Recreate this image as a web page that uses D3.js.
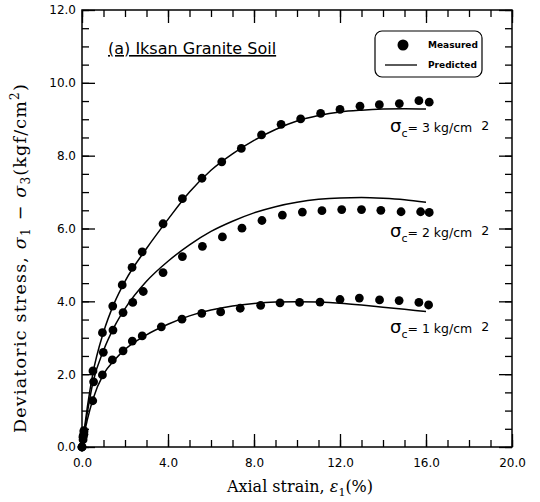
<!DOCTYPE html>
<html><head><meta charset="utf-8">
<script src="https://cdn.jsdelivr.net/npm/d3@7/dist/d3.min.js"></script>
<style>body{margin:0;background:#fff}svg{display:block}</style>
</head><body>
<svg id="c" width="540" height="502"></svg>
<script>
// ---- data ----
const xTicksMajor = [0, 4, 8, 12, 16, 20];
const yTicksMajor = [0, 2, 4, 6, 8, 10, 12];
const seriesNames = ["σc=3", "σc=2", "σc=1"];
const meas3x = [0,0.05,0.09,0.51,0.95,1.43,1.87,2.33,2.8,3.77,4.67,5.58,6.5,7.41,8.35,9.26,10.17,11.1,12.0,12.93,13.83,14.76,15.67,16.15];
const meas3y = [0,0.27,0.45,2.09,3.14,3.87,4.45,4.93,5.36,6.13,6.82,7.38,7.83,8.2,8.57,8.86,9.01,9.16,9.27,9.36,9.4,9.43,9.51,9.47];
const meas2x = [0,0.05,0.09,0.54,0.99,1.44,1.91,2.36,2.85,3.77,4.67,5.6,6.53,7.44,8.37,9.32,10.25,11.16,12.08,13.0,13.9,14.84,15.75,16.15];
const meas2y = [0,0.3,0.41,1.79,2.6,3.21,3.69,3.97,4.27,4.79,5.23,5.51,5.77,6.01,6.22,6.37,6.45,6.49,6.52,6.52,6.5,6.46,6.46,6.44];
const meas1x = [0,0.05,0.09,0.5,0.95,1.41,1.91,2.34,2.8,3.69,4.65,5.57,6.45,7.36,8.31,9.21,10.12,11.07,12.0,12.9,13.84,14.75,15.67,16.12];
const meas1y = [0,0.2,0.35,1.27,1.98,2.39,2.64,2.91,3.05,3.3,3.51,3.67,3.71,3.81,3.89,3.96,3.97,3.98,4.05,4.09,4.04,4.02,3.97,3.9];
const predX = [0,0.1,0.25,0.5,1,1.5,2,3,4,5,6,7,8,9,10,11,12,13,14,15,16];
const pred3 = [0,0.45,1.1,2.0,3.15,3.95,4.55,5.45,6.25,7.0,7.6,8.05,8.42,8.72,8.95,9.1,9.2,9.25,9.28,9.29,9.28];
const pred2 = [0,0.4,0.95,1.75,2.65,3.3,3.8,4.55,5.1,5.55,5.92,6.2,6.43,6.6,6.72,6.8,6.84,6.85,6.83,6.79,6.72];
const pred1 = [0,0.35,0.75,1.3,2.0,2.38,2.68,3.08,3.37,3.6,3.76,3.87,3.94,3.98,3.99,3.98,3.95,3.9,3.84,3.78,3.72];
const labelTexts = ["3", "2", "1"];
const labelAtY = [8.72, 5.86, 3.2];

// ---- layout ----
const svg = d3.select("#c");
const L = 82, R = 512, T = 10, B = 447;
const x = d3.scaleLinear().domain([0, 20]).range([L, R]);
const y = d3.scaleLinear().domain([0, 12]).range([B, T]);
const fmt = d3.format(".1f");
const tickFont = "DejaVu Sans, sans-serif";

function styleAxis(g){
  g.select(".domain").remove();
  g.selectAll("line").attr("stroke","#000").attr("stroke-width",1.3);
  g.selectAll("text").attr("font-family",tickFont).attr("font-size",12).attr("fill","#000");
}
const minorX = d3.range(0, 21, 1);
const minorY = d3.range(0, 12.01, 0.5);

// bottom
svg.append("g").attr("transform",`translate(0,${B})`)
  .call(d3.axisBottom(x).tickValues(minorX).tickSize(-7).tickFormat(""))
  .call(styleAxis);
svg.append("g").attr("transform",`translate(0,${B})`)
  .call(d3.axisBottom(x).tickValues(xTicksMajor).tickSize(-13).tickPadding(11).tickFormat(fmt))
  .call(styleAxis);
// top
svg.append("g").attr("transform",`translate(0,${T})`)
  .call(d3.axisTop(x).tickValues(minorX).tickSize(-7).tickFormat(""))
  .call(styleAxis);
svg.append("g").attr("transform",`translate(0,${T})`)
  .call(d3.axisTop(x).tickValues(xTicksMajor).tickSize(-13).tickFormat(""))
  .call(styleAxis);
// left
svg.append("g").attr("transform",`translate(${L},0)`)
  .call(d3.axisLeft(y).tickValues(minorY).tickSize(-7).tickFormat(""))
  .call(styleAxis);
svg.append("g").attr("transform",`translate(${L},0)`)
  .call(d3.axisLeft(y).tickValues(yTicksMajor).tickSize(-13).tickPadding(6).tickFormat(fmt))
  .call(styleAxis);
// right
svg.append("g").attr("transform",`translate(${R},0)`)
  .call(d3.axisRight(y).tickValues(minorY).tickSize(-7).tickFormat(""))
  .call(styleAxis);
svg.append("g").attr("transform",`translate(${R},0)`)
  .call(d3.axisRight(y).tickValues(yTicksMajor).tickSize(-13).tickFormat(""))
  .call(styleAxis);

// frame
svg.append("rect").attr("x",L).attr("y",T).attr("width",R-L).attr("height",B-T)
  .attr("fill","none").attr("stroke","#000").attr("stroke-width",1.5);

// predicted lines
const line = d3.line().curve(d3.curveMonotoneX).x(d=>x(d[0])).y(d=>y(d[1]));
[pred3, pred2, pred1].forEach(p=>{
  svg.append("path").datum(predX.map((v,i)=>[v,p[i]]))
    .attr("d",line).attr("fill","none").attr("stroke","#000").attr("stroke-width",1.5);
});
// measured points
[[meas3x,meas3y],[meas2x,meas2y],[meas1x,meas1y]].forEach(([mx,my])=>{
  svg.append("g").selectAll("circle").data(mx.map((v,i)=>[v,my[i]])).join("circle")
    .attr("cx",d=>x(d[0])).attr("cy",d=>y(d[1])).attr("r",4.4).attr("fill","#000");
});

// series labels
labelTexts.forEach((t,i)=>{
  const tx = svg.append("text").attr("x",390).attr("y",y(labelAtY[i])+3)
    .attr("font-family",tickFont).attr("fill","#000");
  tx.append("tspan").attr("font-size",18).text("σ");
  tx.append("tspan").attr("font-size",11).attr("dy",5).text("c");
  tx.append("tspan").attr("font-size",12.5).attr("dy",-5).text("= " + t + " kg/cm");
  tx.append("tspan").attr("font-size",12.5).attr("dx",9).attr("dy",-2).text("2");
});

// title
svg.append("text").attr("x",108).attr("y",54).attr("font-family",tickFont)
  .attr("font-size",16).attr("text-decoration","underline").attr("fill","#000")
  .text("(a) Iksan Granite Soil");

// legend
svg.append("rect").attr("x",375).attr("y",31).attr("width",107).attr("height",46)
  .attr("rx",7).attr("fill","#fff").attr("stroke","#000").attr("stroke-width",1.2);
svg.append("circle").attr("cx",403).attr("cy",45).attr("r",5.5).attr("fill","#000");
svg.append("line").attr("x1",385).attr("x2",417).attr("y1",65).attr("y2",65)
  .attr("stroke","#000").attr("stroke-width",1.3);
svg.append("text").attr("x",428).attr("y",48).attr("font-family",tickFont)
  .attr("font-weight","bold").attr("font-size",9).text("Measured");
svg.append("text").attr("x",428).attr("y",68).attr("font-family",tickFont)
  .attr("font-weight","bold").attr("font-size",9).text("Predicted");

// axis titles
const serif = "DejaVu Serif, serif";
const xl = svg.append("text").attr("x",300).attr("y",492).attr("text-anchor","middle")
  .attr("font-family",serif).attr("font-size",16).attr("fill","#000");
xl.append("tspan").text("Axial strain, ");
xl.append("tspan").attr("font-style","italic").text("ε");
xl.append("tspan").attr("font-size",11).attr("dy",4).text("1");
xl.append("tspan").attr("dy",-4).text("(%)");

const yl = svg.append("text").attr("transform","translate(26,258) rotate(-90)")
  .attr("text-anchor","middle").attr("font-family",serif).attr("font-size",17.5)
  .attr("letter-spacing",1.2).attr("fill","#000");
yl.append("tspan").text("Deviatoric stress, ");
yl.append("tspan").attr("font-style","italic").text("σ");
yl.append("tspan").attr("font-size",12).attr("dy",4).text("1");
yl.append("tspan").attr("dy",-4).text(" − ");
yl.append("tspan").attr("font-style","italic").text("σ");
yl.append("tspan").attr("font-size",12).attr("dy",4).text("3");
yl.append("tspan").attr("dy",-4).text("(kgf/cm");
yl.append("tspan").attr("font-size",12).attr("dy",-7).text("2");
yl.append("tspan").attr("dy",7).text(")");
</script>
</body></html>
